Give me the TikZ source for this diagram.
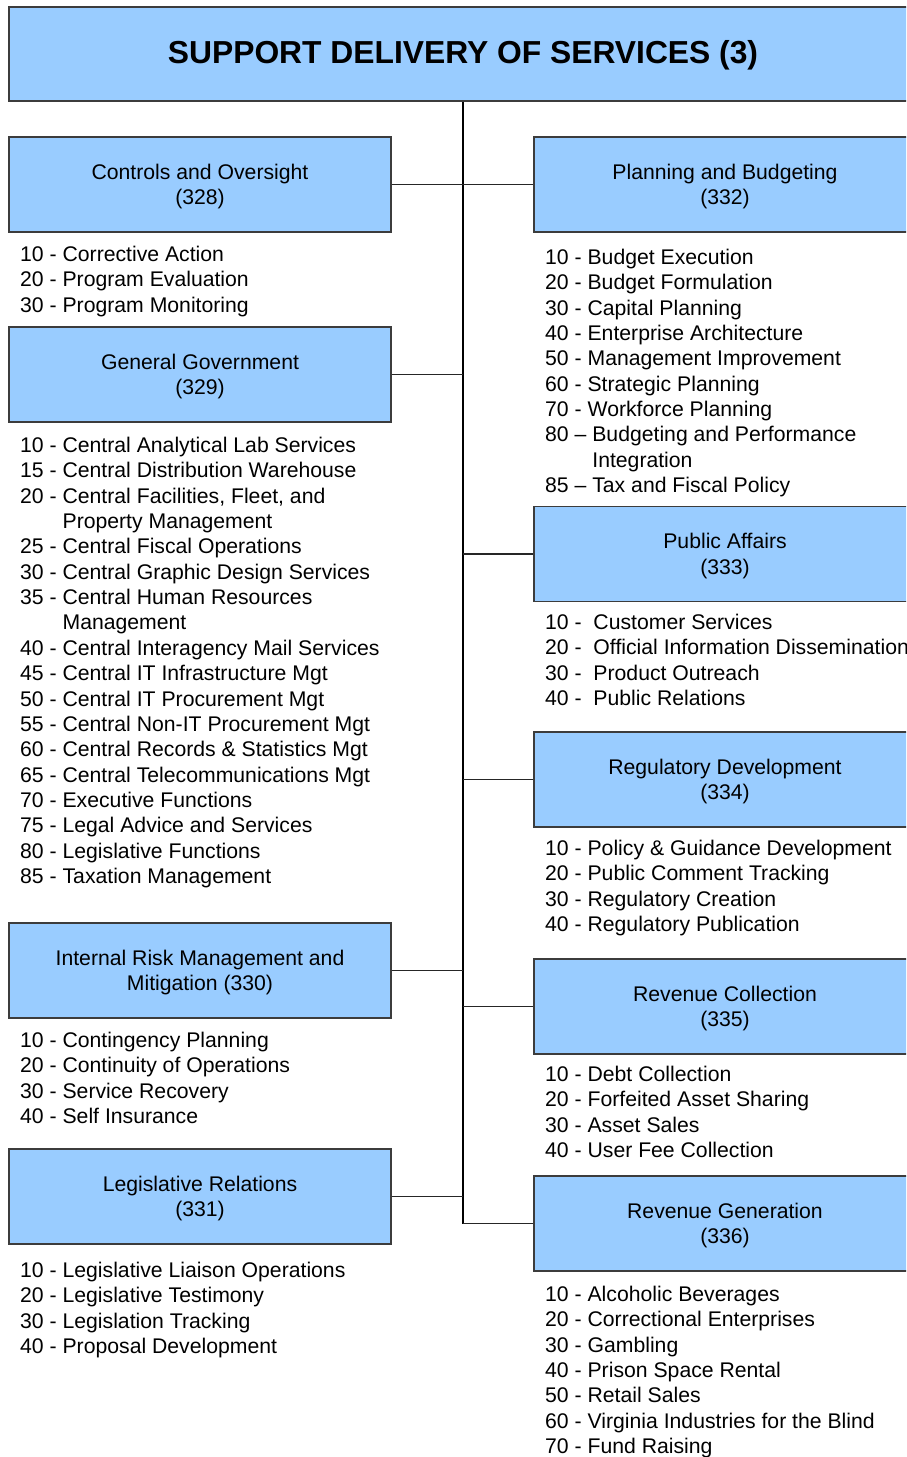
\documentclass[tikz,border=0pt]{standalone}
\usepackage{fontspec}
\setmainfont{Liberation Sans}
\definecolor{boxblue}{HTML}{99CCFF}
\definecolor{boxline}{HTML}{3C3C3C}
\newcommand{\itemlist}[4]{%
  \foreach \t [count=\i] in {#4}
    \node[listitem] (#1-\i) at (#2, {#3+(\i-1)*25.35}) {\t};}
\begin{document}
\begin{tikzpicture}[x=1pt,y=-1pt,
  box/.style={draw=boxline, line width=1.2pt, fill=boxblue, minimum width=382pt, minimum height=95pt, inner sep=0pt},
  titlebox/.style={draw=boxline, line width=1.2pt, fill=boxblue, minimum width=908pt, minimum height=94pt, inner sep=0pt},
  boxtext/.style={align=center, inner sep=0pt, font=\fontsize{21.2}{25.35}\selectfont},
  titletext/.style={inner sep=0pt, font=\fontsize{31.8}{36}\selectfont\bfseries},
  listitem/.style={anchor=base west, inner sep=0pt, font=\fontsize{21.2}{25.35}\selectfont},
  trunk/.style={draw=black, line width=1.8pt},
  branch/.style={draw=black!85, line width=1.2pt}]
\useasboundingbox (0,0) rectangle (906,1457);
\clip (0,0) rectangle (906,1457);
\fill[white] (0,0) rectangle (906,1457);

% title
\node[titlebox] (top) at (463,54) {};
\node[titletext] (toptxt) at ([yshift=-1.5pt]top.center) {SUPPORT DELIVERY OF SERVICES (3)};

% left boxes
\node[box] (b328) at (200,184.5) {};
\node[box] (b329) at (200,374.5) {};
\node[box] (b330) at (200,970.5) {};
\node[box] (b331) at (200,1196.5) {};
% right boxes
\node[box] (b332) at (725,184.5) {};
\node[box] (b333) at (725,554) {};
\node[box] (b334) at (725,779.5) {};
\node[box] (b335) at (725,1006.5) {};
\node[box] (b336) at (725,1223.5) {};

% connectors
\coordinate (trunkend) at (463,1223.5);
\draw[trunk] (top.south) -- (trunkend);
\draw[branch] (b328.east) -- (b332.west);
\draw[branch] (b329.east) -- (b329.east -| top.south);
\draw[branch] (b330.east) -- (b330.east -| top.south);
\draw[branch] (b331.east) -- (b331.east -| top.south);
\draw[branch] (b333.west) -- (b333.west -| top.south);
\draw[branch] (b334.west) -- (b334.west -| top.south);
\draw[branch] (b335.west) -- (b335.west -| top.south);
\draw[branch] (b336.west) -- (trunkend);

% box texts
\node[boxtext] (t328) at ([yshift=-2pt]b328.center) {Controls and Oversight\\(328)};
\node[boxtext] (t329) at ([yshift=-2pt]b329.center) {General Government\\(329)};
\node[boxtext] (t330) at ([yshift=-2pt]b330.center) {Internal Risk Management and\\Mitigation (330)};
\node[boxtext] (t331) at ([yshift=-2pt]b331.center) {Legislative Relations\\(331)};
\node[boxtext] (t332) at ([yshift=-2pt]b332.center) {Planning and Budgeting\\(332)};
\node[boxtext] (t333) at ([yshift=-2pt]b333.center) {Public Affairs\\(333)};
\node[boxtext] (t334) at ([yshift=-2pt]b334.center) {Regulatory Development\\(334)};
\node[boxtext] (t335) at ([yshift=-2pt]b335.center) {Revenue Collection\\(335)};
\node[boxtext] (t336) at ([yshift=-2pt]b336.center) {Revenue Generation\\(336)};

% lists (x, first baseline)
\itemlist{l328}{20}{261.5}{10 - Corrective Action,20 - Program Evaluation,30 - Program Monitoring}
\itemlist{l329}{20}{452.5}{10 - Central Analytical Lab Services,15 - Central Distribution Warehouse,{20 - Central Facilities, Fleet, and},\hphantom{20 - }Property Management,25 - Central Fiscal Operations,30 - Central Graphic Design Services,35 - Central Human Resources,\hphantom{35 - }Management,40 - Central Interagency Mail Services,45 - Central IT Infrastructure Mgt,50 - Central IT Procurement Mgt,55 - Central Non-IT Procurement Mgt,60 - Central Records \& Statistics Mgt,65 - Central Telecommunications Mgt,70 - Executive Functions,75 - Legal Advice and Services,80 - Legislative Functions,85 - Taxation Management}
\itemlist{l330}{20}{1047.5}{10 - Contingency Planning,20 - Continuity of Operations,30 - Service Recovery,40 - Self Insurance}
\itemlist{l331}{20}{1277.5}{10 - Legislative Liaison Operations,20 - Legislative Testimony,30 - Legislation Tracking,40 - Proposal Development}
\itemlist{l332}{545}{264.5}{10 - Budget Execution,20 - Budget Formulation,30 - Capital Planning,40 - Enterprise Architecture,50 - Management Improvement,60 - Strategic Planning,70 - Workforce Planning,80 – Budgeting and Performance,\hphantom{80 – }Integration,85 – Tax and Fiscal Policy}
\itemlist{l333}{545}{629.5}{10 - \ Customer Services,20 - \ Official Information Dissemination,30 - \ Product Outreach,40 - \ Public Relations}
\itemlist{l334}{545}{855.5}{10 - Policy \& Guidance Development,20 - Public Comment Tracking,30 - Regulatory Creation,40 - Regulatory Publication}
\itemlist{l335}{545}{1081.5}{10 - Debt Collection,20 - Forfeited Asset Sharing,30 - Asset Sales,40 - User Fee Collection}
\itemlist{l336}{545}{1301.5}{10 - Alcoholic Beverages,20 - Correctional Enterprises,30 - Gambling,40 - Prison Space Rental,50 - Retail Sales,60 - Virginia Industries for the Blind,70 - Fund Raising}
\end{tikzpicture}
\end{document}
